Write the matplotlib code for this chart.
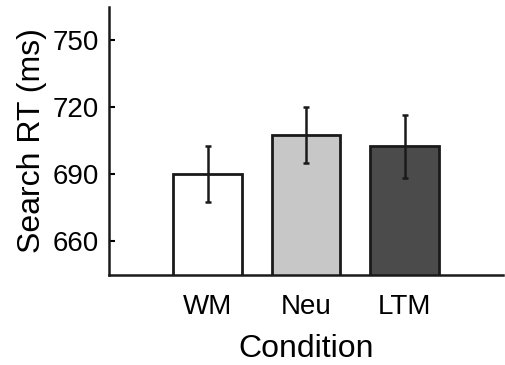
import matplotlib
matplotlib.use("Agg")
import matplotlib.pyplot as plt

plt.rcParams['font.family'] = ['Liberation Sans', 'DejaVu Sans']

conditions = ['WM', 'Neu', 'LTM']
mean_rt = [690.2, 707.6, 702.5]
sem_rt = [12.4, 12.5, 14.3]
bar_colors = ['#ffffff', '#c6c7c6', '#4b4b4b']
y_ticks = [660, 690, 720, 750]

fig = plt.figure(figsize=(5.05, 3.65), dpi=100)
ax = fig.add_axes([0.216, 0.247, 0.780, 0.734])

x = [1, 2, 3]
ax.bar(x, mean_rt, width=0.7, color=bar_colors, edgecolor='#1a1a1a', linewidth=2)
ax.errorbar(x, mean_rt, yerr=sem_rt, fmt='none', ecolor='#1a1a1a',
            elinewidth=1.8, capsize=2.3, capthick=1.8)

ax.set_xlim(0, 4)
ax.set_ylim(645, 765)
ax.set_xticks(x)
ax.set_xticklabels(conditions)
ax.set_yticks(y_ticks)
ax.tick_params(axis='y', direction='in', length=4.5, width=1.5, labelsize=20, pad=7)
ax.tick_params(axis='x', length=0, labelsize=20, pad=14)

for s in ['top', 'right']:
    ax.spines[s].set_visible(False)
for s in ['left', 'bottom']:
    ax.spines[s].set_linewidth(1.8)
    ax.spines[s].set_color('#1a1a1a')

ax.set_xlabel('Condition', fontsize=23, labelpad=10)
ax.set_ylabel('Search RT (ms)', fontsize=23, labelpad=4)

fig.savefig('out.png', dpi=100)
